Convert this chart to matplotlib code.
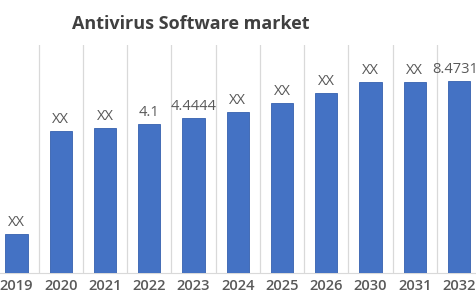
import numpy as np
import matplotlib
matplotlib.use("Agg")
import matplotlib.pyplot as plt

years = ["2019", "2020", "2021", "2022", "2023", "2024", "2025", "2026", "2030", "2031", "2032"]
values = [1.72, 6.27, 6.40, 6.58, 6.84, 7.10, 7.50, 7.94, 8.43, 8.43, 8.47]
labels = ["XX", "XX", "XX", "4.1", "4.4444", "XX", "XX", "XX", "XX", "XX", "8.47319"]

plt.rcParams['font.family'] = ['Open Sans', 'DejaVu Sans']

fig = plt.figure(figsize=(4.77, 3.0), dpi=100)
ax = fig.add_axes([0, 27 / 300, 1, 228 / 300])

x = np.arange(len(years))
bars = ax.bar(x, values, width=0.5, color='#4472C4', edgecolor='#3560AE', linewidth=0.6, zorder=3)

for xi, v, lab in zip(x, values, labels):
    ax.annotate(lab, (xi, v), xytext=(0, 3), textcoords='offset points',
                ha='center', va='bottom', fontsize=10.5, color='#595959')

# pixel layout: first bar centre at 16.5 px, step 44.25 px
step = 44.25
ax.set_xlim(-16.5 / step, (477 - 16.5) / step)
ax.set_ylim(0, 228 / 22.66)

ax.set_xticks(x)
ax.set_xticklabels(years, fontsize=10.5, color='#595959', fontweight='semibold')
ax.set_xticks(x[:-1] + 0.5, minor=True)
ax.tick_params(axis='x', which='both', length=0, pad=4)
ax.tick_params(axis='y', left=False, labelleft=False)
ax.grid(axis='x', which='minor', color='#D9D9D9', linewidth=0.9, zorder=0)

for s in ['top', 'left', 'right']:
    ax.spines[s].set_visible(False)
ax.spines['bottom'].set_color('#D9D9D9')

fig.text(72 / 477, 1 - 24 / 300, "Antivirus Software market", fontsize=13, fontweight='bold',
         color='#404040', ha='left', va='center')

fig.savefig("out.png", dpi=100)
